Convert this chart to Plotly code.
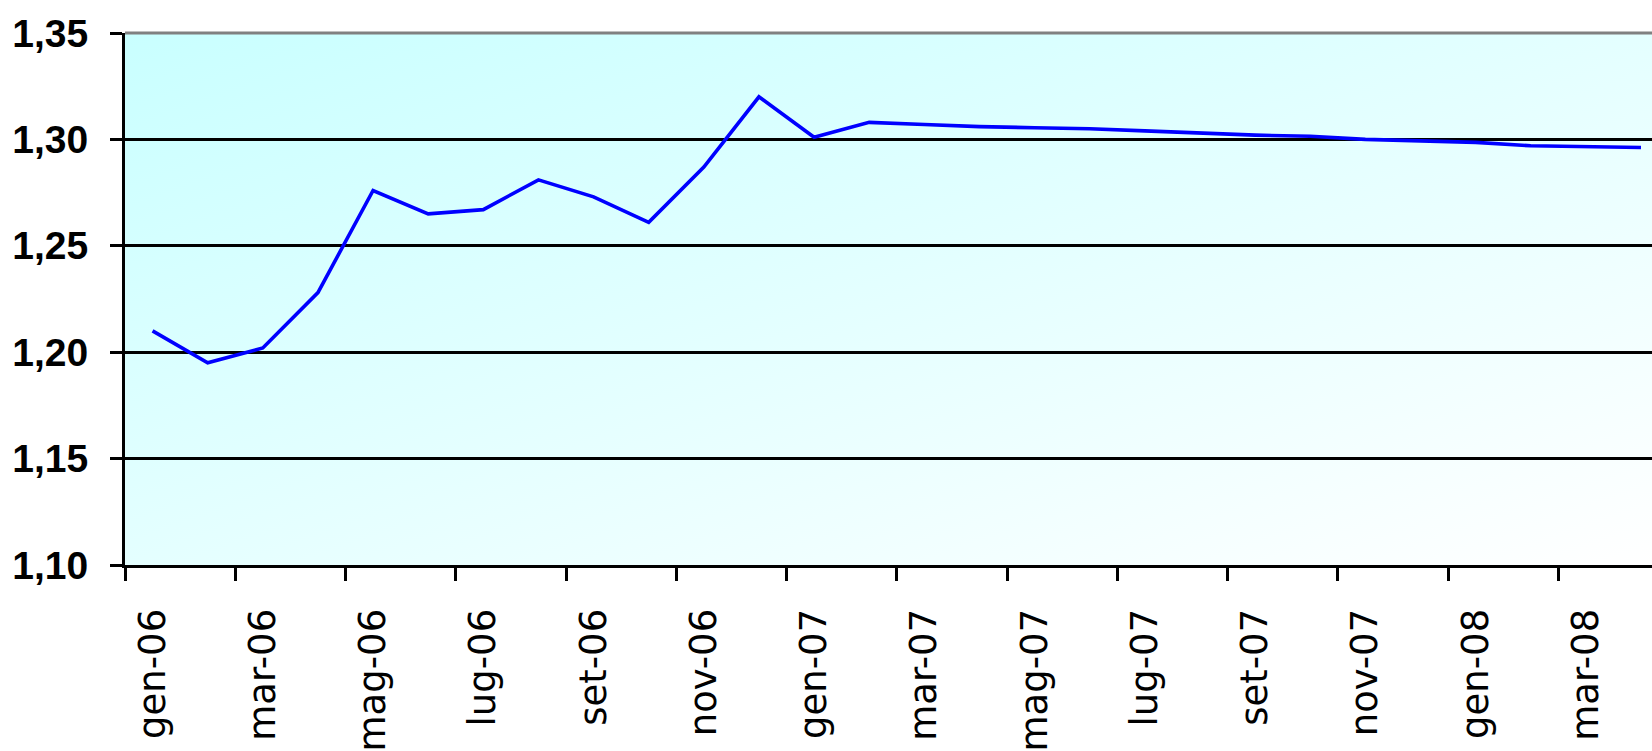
import base64
import plotly.graph_objects as go

# Monthly series, gen-06 .. apr-08
months = [
    "gen-06", "feb-06", "mar-06", "apr-06", "mag-06", "giu-06", "lug-06", "ago-06",
    "set-06", "ott-06", "nov-06", "dic-06", "gen-07", "feb-07", "mar-07", "apr-07",
    "mag-07", "giu-07", "lug-07", "ago-07", "set-07", "ott-07", "nov-07", "dic-07",
    "gen-08", "feb-08", "mar-08", "apr-08",
]
values = [
    1.210, 1.195, 1.202, 1.228, 1.276, 1.265, 1.267, 1.281,
    1.273, 1.261, 1.287, 1.320, 1.301, 1.308, 1.307, 1.306,
    1.3055, 1.305, 1.304, 1.303, 1.302, 1.3015, 1.300, 1.2993,
    1.2986, 1.297, 1.2966, 1.2962,
]
tick_labels = months[::2]
y_ticks = [1.10, 1.15, 1.20, 1.25, 1.30, 1.35]

# category boundaries that carry a tick mark (every second month)
boundary_ticks = [i - 0.5 for i in range(0, len(months) + 1, 2)]
x_range = [-0.5, 27.2]

# diagonal light-turquoise to white fill of the plot area
svg = (
    "<svg xmlns='http://www.w3.org/2000/svg' width='100' height='100' "
    "viewBox='0 0 100 100' preserveAspectRatio='none'>"
    "<defs><linearGradient id='g' x1='0' y1='0' x2='1' y2='1'>"
    "<stop offset='0' stop-color='#C9FFFF'/>"
    "<stop offset='1' stop-color='#FFFFFF'/>"
    "</linearGradient></defs>"
    "<rect width='100' height='100' fill='url(#g)'/></svg>"
)
bg_src = "data:image/svg+xml;base64," + base64.b64encode(svg.encode()).decode()

fig = go.Figure()
fig.add_trace(go.Scatter(
    x=months, y=values, mode="lines",
    line=dict(color="#0000FF", width=3.6),
    hoverinfo="x+y", showlegend=False,
))
# carrier for the boundary tick axis
fig.add_trace(go.Scatter(x=[], y=[], xaxis="x2", yaxis="y",
                         showlegend=False, hoverinfo="skip"))

fig.update_layout(
    width=1652, height=751,
    margin=dict(l=125, r=0, t=33, b=182),
    paper_bgcolor="white",
    plot_bgcolor="white",
    separators=",.",
    images=[dict(
        source=bg_src, xref="paper", yref="paper", x=0, y=1,
        sizex=1, sizey=1, xanchor="left", yanchor="top",
        sizing="stretch", layer="below",
    )],
    xaxis=dict(
        type="category", range=x_range,
        tickvals=tick_labels, ticktext=tick_labels,
        ticks="", tickangle=-90,
        tickfont=dict(family="DejaVu Sans", size=37, color="#000000"),
        ticklabelstandoff=26,
        showgrid=False, zeroline=False,
        showline=True, linecolor="#000000", linewidth=3,
    ),
    xaxis2=dict(
        overlaying="x", anchor="y", side="bottom",
        range=x_range, tickvals=boundary_ticks,
        ticks="outside", ticklen=15, tickwidth=2.8, tickcolor="#000000",
        showticklabels=False, showgrid=False, zeroline=False, showline=False,
    ),
    yaxis=dict(
        range=[1.10, 1.35], tickvals=y_ticks, tickformat=".2f",
        ticks="outside", ticklen=12, tickwidth=2.8, tickcolor="#000000",
        tickfont=dict(family="Liberation Sans", size=39, color="#000000", weight="bold"),
        ticklabelstandoff=14,
        showgrid=True, gridcolor="#000000", gridwidth=2.8,
        zeroline=False,
        showline=True, linecolor="#000000", linewidth=3,
    ),
    shapes=[dict(
        type="line", xref="paper", yref="paper", x0=0, x1=1, y0=1, y1=1,
        line=dict(color="#808080", width=2.8), layer="above",
    )],
)

fig.write_html("out.html")
